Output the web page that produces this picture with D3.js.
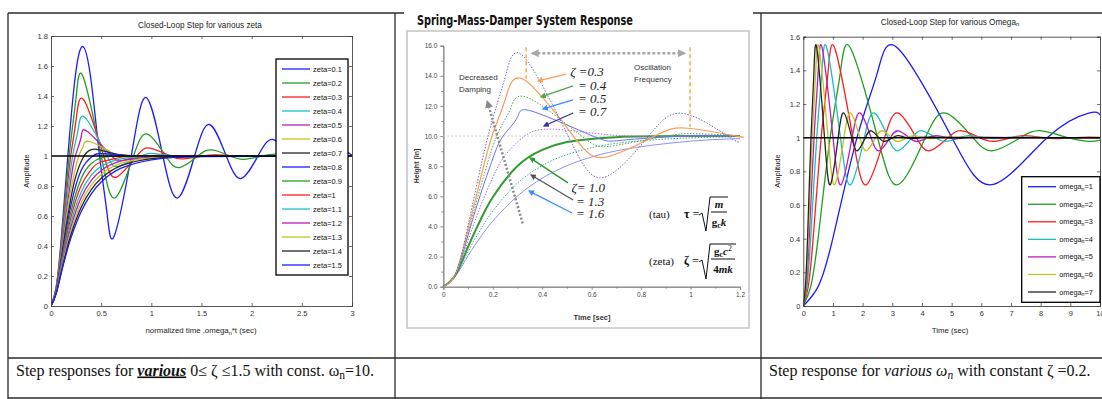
<!DOCTYPE html>
<html>
<head>
<meta charset="utf-8">
<script src="https://cdn.jsdelivr.net/npm/d3@7"></script>
<style>
  body { margin: 0; background: #fff; }
  svg { display: block; }
</style>
</head>
<body>
<svg id="fig" width="1102" height="399"></svg>
<script>
// ---------- left panel: step responses, omega_n = 10, various zeta ----------
const zetaLabels = ["0.1","0.2","0.3","0.4","0.5","0.6","0.7","0.8","0.9","1","1.1","1.2","1.3","1.4","1.5"];
const zetaXTicks = [0, 0.5, 1, 1.5, 2, 2.5, 3];
const zetaYTicks = [0, 0.2, 0.4, 0.6, 0.8, 1, 1.2, 1.4, 1.6, 1.8];

const zeta01 = [[0,0],[0.05,0.12],[0.1,0.43],[0.168,1],[0.24,1.52],[0.316,1.73],[0.4,1.5],[0.484,1],[0.56,0.61],[0.632,0.47],[0.8,1],[0.948,1.39],[1.115,1],[1.263,0.72],[1.431,1],[1.579,1.21],[1.747,1],[1.894,0.85],[2.062,1],[2.21,1.11],[2.378,1],[2.526,0.92],[2.694,1],[2.841,1.06],[3,1.005]];
const zeta02 = [[0,0],[0.05,0.115],[0.1,0.405],[0.181,1],[0.25,1.39],[0.321,1.527],[0.501,1],[0.641,0.722],[0.822,1],[0.962,1.146],[1.143,1],[1.282,0.923],[1.463,1],[1.603,1.041],[1.784,1],[1.924,0.978],[2.105,1],[2.244,1.012],[2.425,1],[2.565,0.994],[2.746,1],[2.885,1.003],[3,1]];
const zeta03 = [[0,0],[0.05,0.111],[0.1,0.381],[0.15,0.713],[0.197,1],[0.25,1.241],[0.329,1.372],[0.526,1],[0.659,0.861],[0.855,1],[0.988,1.052],[1.185,1],[1.317,0.981],[1.514,1],[1.647,1.007],[1.843,1],[1.976,0.997],[2.3,1],[3,1]];
const zeta04 = [[0,0],[0.05,0.107],[0.1,0.36],[0.15,0.658],[0.216,1],[0.27,1.175],[0.343,1.254],[0.559,1],[0.686,0.935],[0.902,1],[1.028,1.016],[1.245,1],[1.371,0.996],[1.7,1],[3,1]];
const zeta05 = [[0,0],[0.05,0.104],[0.1,0.34],[0.15,0.611],[0.2,0.849],[0.242,1],[0.3,1.125],[0.363,1.163],[0.605,1],[0.726,0.973],[0.967,1],[1.088,1.004],[1.5,1],[3,1]];
const zeta06 = [[0,0],[0.05,0.101],[0.1,0.322],[0.15,0.568],[0.2,0.783],[0.277,1],[0.32,1.062],[0.393,1.095],[0.67,1],[0.785,0.991],[1.2,1],[3,1]];
const zeta07 = [[0,0],[0.05,0.099],[0.1,0.306],[0.15,0.531],[0.2,0.725],[0.25,0.871],[0.329,1],[0.44,1.046],[0.66,1.01],[0.88,0.998],[1.2,1],[3,1]];
const zeta08 = [[0,0],[0.05,0.096],[0.1,0.291],[0.15,0.498],[0.2,0.676],[0.3,0.903],[0.416,1],[0.524,1.015],[0.8,1.002],[1.2,1],[3,1]];
const zeta09 = [[0,0],[0.05,0.093],[0.1,0.277],[0.15,0.469],[0.2,0.633],[0.3,0.849],[0.4,0.949],[0.5,0.988],[0.6,0.998],[1,1],[3,1]];
const zeta10 = [[0,0],[0.05,0.09],[0.1,0.264],[0.15,0.442],[0.2,0.594],[0.3,0.801],[0.4,0.908],[0.5,0.96],[0.7,0.993],[1,1],[3,1]];
const zeta11 = [[0,0],[0.05,0.088],[0.1,0.252],[0.15,0.418],[0.2,0.56],[0.3,0.759],[0.4,0.871],[0.5,0.931],[0.7,0.981],[1,0.997],[1.5,1],[3,1]];
const zeta12 = [[0,0],[0.05,0.085],[0.1,0.242],[0.15,0.397],[0.2,0.53],[0.3,0.721],[0.4,0.836],[0.5,0.904],[0.7,0.967],[1,0.993],[1.5,1],[3,1]];
const zeta13 = [[0,0],[0.05,0.083],[0.1,0.232],[0.15,0.377],[0.2,0.502],[0.3,0.687],[0.4,0.804],[0.5,0.877],[0.7,0.952],[1,0.988],[1.5,0.999],[3,1]];
const zeta14 = [[0,0],[0.05,0.081],[0.1,0.222],[0.15,0.359],[0.2,0.478],[0.3,0.656],[0.4,0.774],[0.5,0.851],[0.7,0.936],[1,0.982],[1.5,0.998],[3,1]];
const zeta15 = [[0,0],[0.05,0.079],[0.1,0.213],[0.15,0.343],[0.2,0.456],[0.3,0.628],[0.4,0.746],[0.5,0.827],[0.7,0.919],[1,0.974],[1.5,0.996],[3,1]];
const zetaSeries = [zeta01, zeta02, zeta03, zeta04, zeta05, zeta06, zeta07, zeta08, zeta09, zeta10, zeta11, zeta12, zeta13, zeta14, zeta15];

// ---------- middle panel: spring-mass-damper (Excel chart) ----------
const smdXTicks = [0, 0.2, 0.4, 0.6, 0.8, 1, 1.2];
const smdYTicks = [0, 2, 4, 6, 8, 10, 12, 14, 16];
const smd02 = [[0,0],[0.05,0.9],[0.1,4.05],[0.181,10],[0.25,13.9],[0.325,15.27],[0.505,10],[0.648,7.25],[0.83,10],[0.972,11.5],[1.15,10],[1.2,9.6]];
const smd03 = [[0,0],[0.05,0.9],[0.1,3.81],[0.15,7.13],[0.197,10],[0.25,12.41],[0.329,13.72],[0.526,10],[0.659,8.61],[0.855,10],[0.988,10.52],[1.185,10],[1.2,9.99]];
const smd04 = [[0,0],[0.05,0.88],[0.1,3.6],[0.15,6.58],[0.216,10],[0.27,11.75],[0.343,12.54],[0.559,10],[0.686,9.35],[0.902,10],[1.028,10.16],[1.2,10.03]];
const smd05 = [[0,0],[0.05,0.86],[0.1,3.4],[0.15,6.11],[0.2,8.49],[0.242,10],[0.3,11.25],[0.363,11.63],[0.605,10],[0.726,9.73],[0.967,10],[1.088,10.04],[1.2,10.01]];
const smd07 = [[0,0],[0.05,0.84],[0.1,3.06],[0.15,5.31],[0.2,7.25],[0.25,8.71],[0.329,10],[0.44,10.46],[0.66,10.1],[0.88,9.98],[1.2,10]];
const smd10 = [[0,0],[0.05,0.8],[0.1,2.64],[0.15,4.42],[0.2,5.94],[0.3,8.01],[0.4,9.08],[0.5,9.6],[0.7,9.93],[1,10],[1.2,10]];
const smd13 = [[0,0],[0.05,0.76],[0.1,2.32],[0.15,3.77],[0.2,5.02],[0.3,6.87],[0.4,8.04],[0.5,8.77],[0.7,9.52],[1,9.88],[1.2,9.95]];
const smd16 = [[0,0],[0.05,0.72],[0.1,2.05],[0.15,3.28],[0.2,4.35],[0.3,6.02],[0.4,7.2],[0.5,8.03],[0.7,9.02],[1,9.66],[1.2,9.83]];
const smdLabelsTop = ["\u03B6 =0.3", "= 0.4", "= 0.5", "= 0.7"];
const smdLabelsBottom = ["\u03B6= 1.0", "= 1.3", "= 1.6"];

// ---------- right panel: zeta = 0.2, various omega_n ----------
const omegaLabels = ["1", "2", "3", "4", "5", "6", "7"];
const omegaXTicks = [0, 1, 2, 3, 4, 5, 6, 7, 8, 9, 10];
const omegaYTicks = [0, 0.2, 0.4, 0.6, 0.8, 1, 1.2, 1.4, 1.6];
const omega1 = [[0,0],[0.5,0.115],[1,0.405],[1.81,1],[2.5,1.388],[3.21,1.527],[5.01,1],[6.41,0.722],[8.22,1],[9.62,1.146],[10,1.136]];
const omega2 = [[0,0],[0.25,0.115],[0.5,0.405],[0.905,1],[1.25,1.388],[1.605,1.527],[2.505,1],[3.205,0.722],[4.11,1],[4.81,1.146],[5.715,1],[6.41,0.923],[7.315,1],[8.015,1.041],[8.92,1],[9.62,0.978],[10,0.984]];
const omega3 = [[0,0],[0.167,0.115],[0.333,0.405],[0.603,1],[0.833,1.388],[1.07,1.527],[1.67,1],[2.137,0.722],[2.74,1],[3.207,1.146],[3.81,1],[4.273,0.923],[4.877,1],[5.343,1.041],[5.947,1],[6.413,0.978],[7.017,1],[7.48,1.012],[8.083,1],[8.55,0.994],[9.153,1],[9.617,1.003],[10,1.001]];
const omega4 = [[0,0],[0.125,0.115],[0.25,0.405],[0.453,1],[0.625,1.388],[0.803,1.527],[1.253,1],[1.603,0.722],[2.055,1],[2.405,1.146],[2.858,1],[3.205,0.923],[3.658,1],[4.008,1.041],[4.46,1],[4.81,0.978],[5.263,1],[5.61,1.012],[6.063,1],[6.413,0.994],[6.865,1],[7.213,1.003],[8.5,1],[10,1]];
const omega5 = [[0,0],[0.1,0.115],[0.2,0.405],[0.362,1],[0.5,1.388],[0.642,1.527],[1.002,1],[1.282,0.722],[1.644,1],[1.924,1.146],[2.286,1],[2.564,0.923],[2.926,1],[3.206,1.041],[3.568,1],[3.848,0.978],[4.21,1],[4.488,1.012],[4.85,1],[5.13,0.994],[5.492,1],[5.77,1.003],[7.5,1],[10,1]];
const omega6 = [[0,0],[0.083,0.115],[0.167,0.405],[0.302,1],[0.417,1.388],[0.535,1.527],[0.835,1],[1.068,0.722],[1.37,1],[1.603,1.146],[1.905,1],[2.137,0.923],[2.438,1],[2.672,1.041],[2.973,1],[3.207,0.978],[3.508,1],[3.74,1.012],[4.042,1],[4.275,0.994],[4.577,1],[4.808,1.003],[6.5,1],[10,1]];
const omega7 = [[0,0],[0.071,0.115],[0.143,0.405],[0.259,1],[0.357,1.388],[0.459,1.527],[0.716,1],[0.916,0.722],[1.174,1],[1.374,1.146],[1.633,1],[1.831,0.923],[2.09,1],[2.29,1.041],[2.549,1],[2.749,0.978],[3.007,1],[3.206,1.012],[3.464,1],[3.664,0.994],[3.923,1],[4.121,1.003],[6,1],[10,1]];
const omegaSeries = [omega1, omega2, omega3, omega4, omega5, omega6, omega7];

const matlabColors = ["#1c1cff", "#1f9f1f", "#ff1c1c", "#1cbfbf", "#bf1cbf", "#c4c41c", "#262626"];
const sans = "'Liberation Sans', Arial, sans-serif";
const serif = "'Liberation Serif', 'Times New Roman', serif";

const svg = d3.select("#fig");
svg.append("rect").attr("width", 1102).attr("height", 399).attr("fill", "#fff");
const defs = svg.append("defs");

// text with sub/superscript parts
function richText(g, x, y, parts, size) {
  const t = g.append("text").attr("x", x).attr("y", y).attr("font-size", size);
  let shift = 0;
  parts.forEach(p => {
    const s = t.append("tspan").text(p.t);
    const want = p.sub ? size * 0.22 : p.sup ? -size * 0.4 : 0;
    if (want !== shift) { s.attr("dy", want - shift); shift = want; }
    if (p.sub || p.sup) s.attr("font-size", size * 0.72);
    if (p.i) s.attr("font-style", "italic");
    if (p.b) s.attr("font-weight", "bold");
    if (p.u) s.attr("text-decoration", "underline");
  });
  return t;
}

function clipTo(id, x, y) {
  defs.append("clipPath").attr("id", id).append("rect")
    .attr("x", x.range()[0]).attr("y", y.range()[1])
    .attr("width", x.range()[1] - x.range()[0]).attr("height", y.range()[0] - y.range()[1]);
}

// MATLAB style box with inward ticks on all sides
function matlabAxes(g, x, y, xt, yt) {
  const [xa, xb] = x.range(), [ya, yb] = y.range();
  const axes = [
    g.append("g").attr("transform", `translate(0,${ya})`)
      .call(d3.axisBottom(x).tickValues(xt).tickSize(-3).tickPadding(5).tickFormat(d => String(d))),
    g.append("g").attr("transform", `translate(${xa},0)`)
      .call(d3.axisLeft(y).tickValues(yt).tickSize(-3).tickPadding(3).tickFormat(d => String(d))),
    g.append("g").attr("transform", `translate(0,${yb})`)
      .call(d3.axisTop(x).tickValues(xt).tickSize(-3).tickFormat("")),
    g.append("g").attr("transform", `translate(${xb},0)`)
      .call(d3.axisRight(y).tickValues(yt).tickSize(-3).tickFormat(""))
  ];
  axes.forEach(a => {
    a.attr("font-family", sans).attr("font-size", 7.5);
    a.select(".domain").attr("stroke", "#444").attr("stroke-width", 0.9);
    a.selectAll(".tick line").attr("stroke", "#444").attr("stroke-width", 0.8);
    a.selectAll(".tick text").attr("fill", "#333");
  });
}

// ---------- table frame ----------
const frame = svg.append("g").attr("stroke", "#2b2b2b").attr("stroke-width", 1.3);
[[8, 13, 404, 13], [753, 13, 1102, 13], [8, 358, 1102, 358], [8, 398, 1102, 398],
 [8, 13, 8, 399], [395, 13, 395, 399], [761, 13, 761, 399]].forEach(l =>
  frame.append("line").attr("x1", l[0]).attr("y1", l[1]).attr("x2", l[2]).attr("y2", l[3]));

// ---------- left panel ----------
{
  const x = d3.scaleLinear().domain([0, 3]).range([51, 352]);
  const y = d3.scaleLinear().domain([0, 1.8]).range([306, 36]);
  const g = svg.append("g");
  clipTo("clipZ", x, y);
  const line = d3.line().x(d => x(d[0])).y(d => y(d[1])).curve(d3.curveNatural);
  g.append("g").attr("clip-path", "url(#clipZ)")
    .selectAll("path").data(zetaSeries).join("path")
    .attr("d", line).attr("fill", "none")
    .attr("stroke", (d, i) => matlabColors[i % 7]).attr("stroke-width", 1.3);
  g.append("line").attr("x1", x(0)).attr("x2", x(3)).attr("y1", y(1)).attr("y2", y(1))
    .attr("stroke", "#000").attr("stroke-width", 1.6);
  matlabAxes(g, x, y, zetaXTicks, zetaYTicks);

  g.append("text").attr("x", 200).attr("y", 28).attr("text-anchor", "middle")
    .attr("font-family", sans).attr("font-size", 8.2).attr("fill", "#222")
    .text("Closed-Loop Step for various zeta");
  richText(g, 201, 333, [{ t: "normalized time ,omega" }, { t: "n", sub: true }, { t: "*t (sec)" }], 7.8)
    .attr("text-anchor", "middle").attr("font-family", sans).attr("fill", "#222");
  g.append("text").attr("transform", "translate(29,171) rotate(-90)").attr("text-anchor", "middle")
    .attr("font-family", sans).attr("font-size", 7.5).attr("fill", "#222").text("Amplitude");

  const lg = g.append("g");
  lg.append("rect").attr("x", 276).attr("y", 59).attr("width", 72).attr("height", 216)
    .attr("fill", "#fff").attr("stroke", "#000").attr("stroke-width", 1.3);
  const ly = d3.scalePoint().domain(zetaLabels).range([69, 265]);
  const items = lg.selectAll("g.item").data(zetaLabels).join("g").attr("class", "item");
  items.append("line").attr("x1", 282).attr("x2", 310).attr("y1", d => ly(d)).attr("y2", d => ly(d))
    .attr("stroke", (d, i) => matlabColors[i % 7]).attr("stroke-width", 1.3);
  items.append("text").attr("x", 313).attr("y", d => ly(d) + 2.7)
    .attr("font-family", sans).attr("font-size", 7.5).attr("fill", "#111").text(d => "zeta=" + d);

  richText(g, 16, 375.5, [
    { t: "Step responses for " }, { t: "various", b: true, i: true, u: true },
    { t: " 0\u2264 \u03B6 \u22641.5 with const. \u03C9" }, { t: "n", sub: true }, { t: "=10." }
  ], 16).attr("font-family", serif).attr("fill", "#111");
}

// ---------- middle panel ----------
{
  const x = d3.scaleLinear().domain([0, 1.2]).range([443.3, 740]);
  const y = d3.scaleLinear().domain([0, 16]).range([286.7, 45.7]);
  const g = svg.append("g");

  g.append("text").attr("x", 417).attr("y", 24.5).attr("font-family", "'DejaVu Sans Condensed', 'DejaVu Sans', sans-serif")
    .attr("font-weight", "bold").attr("font-size", 14).attr("fill", "#111")
    .attr("textLength", 216).attr("lengthAdjust", "spacingAndGlyphs")
    .text("Spring-Mass-Damper System Response");
  g.append("rect").attr("x", 407).attr("y", 31).attr("width", 342).attr("height", 297)
    .attr("fill", "#fff").attr("stroke", "#c4c4c4").attr("stroke-width", 1.5);

  // axes
  const ax = g.append("g").attr("transform", `translate(0,${y(0)})`)
    .call(d3.axisBottom(x).tickValues(smdXTicks).tickSize(3).tickPadding(3).tickFormat(d => String(d)));
  const axm = g.append("g").attr("transform", `translate(0,${y(0)})`)
    .call(d3.axisBottom(x).tickValues([0.1, 0.3, 0.5, 0.7, 0.9, 1.1]).tickSize(2).tickFormat(""));
  const ay = g.append("g").attr("transform", `translate(${x(0)},0)`)
    .call(d3.axisLeft(y).tickValues(smdYTicks).tickSize(3).tickPadding(3).tickFormat(d3.format(".1f")));
  const aym = g.append("g").attr("transform", `translate(${x(0)},0)`)
    .call(d3.axisLeft(y).tickValues([1, 3, 5, 7, 9, 11, 13, 15]).tickSize(2).tickFormat(""));
  [ax, axm, ay, aym].forEach(a => {
    a.attr("font-family", sans).attr("font-size", 6.5);
    a.select(".domain").attr("stroke", "#8a8a8a");
    a.selectAll(".tick line").attr("stroke", "#8a8a8a");
    a.selectAll(".tick text").attr("fill", "#444");
  });
  g.append("text").attr("x", 592).attr("y", 319.5).attr("text-anchor", "middle")
    .attr("font-family", sans).attr("font-weight", "bold").attr("font-size", 7.5).attr("fill", "#333").text("Time [sec]");
  g.append("text").attr("transform", "translate(419,166) rotate(-90)").attr("text-anchor", "middle")
    .attr("font-family", sans).attr("font-weight", "bold").attr("font-size", 7).attr("fill", "#333").text("Height [in]");

  // reference at steady state
  g.append("line").attr("x1", x(0)).attr("x2", x(1.2)).attr("y1", y(10)).attr("y2", y(10))
    .attr("stroke", "#c8c8c8").attr("stroke-dasharray", "2,2");

  const line = d3.line().x(d => x(d[0])).y(d => y(d[1])).curve(d3.curveNatural);
  const smdCurves = [
    { d: smd16, c: "#8f8fff", w: 1, dash: null },
    { d: smd13, c: "#3aae9c", w: 1, dash: "1.5,1.5" },
    { d: smd10, c: "#2f9a2f", w: 2, dash: null },
    { d: smd07, c: "#b070d0", w: 1, dash: "1.5,1.5" },
    { d: smd05, c: "#6e6ef2", w: 1, dash: null },
    { d: smd04, c: "#4aa84a", w: 1, dash: "1.5,1.5" },
    { d: smd03, c: "#ff9c55", w: 1.2, dash: null },
    { d: smd02, c: "#6a6ad0", w: 1, dash: "1.5,1.5" }
  ];
  g.selectAll("path.smd").data(smdCurves).join("path").attr("class", "smd")
    .attr("d", s => line(s.d)).attr("fill", "none").attr("stroke", s => s.c)
    .attr("stroke-width", s => s.w).attr("stroke-dasharray", s => s.dash);

  let markerCount = 0;
  function marker(color, size) {
    const id = "arrow" + (markerCount++);
    defs.append("marker").attr("id", id).attr("viewBox", "0 0 10 10").attr("refX", 8).attr("refY", 5)
      .attr("markerWidth", size).attr("markerHeight", size).attr("markerUnits", "userSpaceOnUse")
      .attr("orient", "auto-start-reverse")
      .append("path").attr("d", "M0,0L10,5L0,10z").attr("fill", color);
    return `url(#${id})`;
  }
  function arrow(from, to, color, w, dash, both) {
    const m = marker(color, w > 2 ? 8 : 6);
    const l = g.append("line").attr("x1", x(from[0])).attr("y1", y(from[1]))
      .attr("x2", x(to[0])).attr("y2", y(to[1])).attr("stroke", color).attr("stroke-width", w)
      .attr("stroke-dasharray", dash).attr("marker-end", m);
    if (both) l.attr("marker-start", m);
  }

  // annotations
  g.append("line").attr("x1", x(0.335)).attr("x2", x(0.335)).attr("y1", y(15.9)).attr("y2", y(13.8))
    .attr("stroke", "#ffa030").attr("stroke-width", 1.4).attr("stroke-dasharray", "4,3");
  g.append("line").attr("x1", x(0.998)).attr("x2", x(0.998)).attr("y1", y(15.9)).attr("y2", y(10.6))
    .attr("stroke", "#ffa030").attr("stroke-width", 1.4).attr("stroke-dasharray", "4,3");
  arrow([0.36, 15.5], [0.975, 15.5], "#a8a8a8", 2.5, "3,2", true);
  arrow([0.321, 4.2], [0.178, 12.3], "#8a8a8a", 2.5, "2,2", false);

  arrow([0.496, 14.12], [0.383, 13.66], "#ff9c55", 1.3, null);
  arrow([0.525, 13.33], [0.395, 12.6], "#4aa84a", 1.3, null);
  arrow([0.525, 12.4], [0.403, 11.8], "#3b8cff", 1.3, null);
  arrow([0.525, 11.53], [0.407, 10.67], "#3030a8", 1.3, null);
  arrow([0.504, 6.89], [0.351, 8.55], "#2f9a2f", 1.6, null);
  arrow([0.525, 5.76], [0.355, 7.42], "#555", 1.3, null);
  arrow([0.521, 4.89], [0.347, 6.35], "#3b8cff", 1.3, null);

  const tt = g.append("g").attr("font-family", sans).attr("font-size", 8).attr("fill", "#333");
  tt.append("text").attr("x", 459).attr("y", 80).text("Decreased");
  tt.append("text").attr("x", 459).attr("y", 91.5).text("Damping");
  tt.append("text").attr("x", 634).attr("y", 69.5).text("Oscillation");
  tt.append("text").attr("x", 634).attr("y", 81.5).text("Frequency");

  const zl = g.append("g").attr("font-family", serif).attr("font-style", "italic").attr("font-size", 13).attr("fill", "#222");
  const topPos = [[0.513, 14.02], [0.545, 13.09], [0.545, 12.2], [0.545, 11.3]];
  zl.selectAll("text.top").data(smdLabelsTop).join("text").attr("class", "top")
    .attr("x", (d, i) => x(topPos[i][0])).attr("y", (d, i) => y(topPos[i][1])).text(d => d);
  const botPos = [[0.518, 6.32], [0.537, 5.39], [0.537, 4.53]];
  zl.selectAll("text.bot").data(smdLabelsBottom).join("text").attr("class", "bot")
    .attr("x", (d, i) => x(botPos[i][0])).attr("y", (d, i) => y(botPos[i][1])).text(d => d);

  // formulas
  const f = g.append("g").attr("font-family", serif).attr("fill", "#111");
  f.append("text").attr("x", 649).attr("y", 218).attr("font-size", 11).text("(tau)");
  richText(f, 684, 218, [{ t: "\u03C4", b: true }, { t: " =" }], 12);
  f.append("path").attr("d", "M699,215L702,213L706,231L710,197L728,197").attr("fill", "none").attr("stroke", "#111");
  richText(f, 719, 208, [{ t: "m", b: true, i: true }], 11).attr("text-anchor", "middle");
  f.append("line").attr("x1", 711).attr("x2", 727).attr("y1", 212).attr("y2", 212).attr("stroke", "#111");
  richText(f, 719, 226, [{ t: "g", b: true }, { t: "c", sub: true, b: true }, { t: "k", b: true, i: true }], 11).attr("text-anchor", "middle");

  f.append("text").attr("x", 649).attr("y", 265).attr("font-size", 11).text("(zeta)");
  richText(f, 684, 265, [{ t: "\u03B6", b: true }, { t: " =" }], 12);
  f.append("path").attr("d", "M699,262L702,260L706,279L710,244L736,244").attr("fill", "none").attr("stroke", "#111");
  richText(f, 723, 255, [{ t: "g", b: true }, { t: "c", sub: true, b: true }, { t: "c", b: true, i: true }, { t: "2", sup: true }], 11).attr("text-anchor", "middle");
  f.append("line").attr("x1", 711).attr("x2", 735).attr("y1", 259).attr("y2", 259).attr("stroke", "#111");
  richText(f, 723, 273, [{ t: "4", b: true }, { t: "mk", b: true, i: true }], 11).attr("text-anchor", "middle");
}

// ---------- right panel ----------
{
  const x = d3.scaleLinear().domain([0, 10]).range([803.3, 1100]);
  const y = d3.scaleLinear().domain([0, 1.6]).range([306, 36.7]);
  const g = svg.append("g");
  clipTo("clipW", x, y);
  const line = d3.line().x(d => x(d[0])).y(d => y(d[1])).curve(d3.curveNatural);
  g.append("g").attr("clip-path", "url(#clipW)")
    .selectAll("path").data(omegaSeries).join("path")
    .attr("d", line).attr("fill", "none")
    .attr("stroke", (d, i) => matlabColors[i]).attr("stroke-width", 1.3);
  g.append("line").attr("x1", x(0)).attr("x2", x(10)).attr("y1", y(1)).attr("y2", y(1))
    .attr("stroke", "#000").attr("stroke-width", 1.6);
  matlabAxes(g, x, y, omegaXTicks, omegaYTicks);

  richText(g, 950, 24.5, [{ t: "Closed-Loop Step for various Omega" }, { t: "n", sub: true }], 8.2)
    .attr("text-anchor", "middle").attr("font-family", sans).attr("fill", "#222");
  g.append("text").attr("x", 950).attr("y", 333).attr("text-anchor", "middle")
    .attr("font-family", sans).attr("font-size", 7.8).attr("fill", "#222").text("Time (sec)");
  g.append("text").attr("transform", "translate(780,171) rotate(-90)").attr("text-anchor", "middle")
    .attr("font-family", sans).attr("font-size", 7.5).attr("fill", "#222").text("Amplitude");

  const lg = g.append("g");
  lg.append("rect").attr("x", 1021.7).attr("y", 176.7).attr("width", 78.3).attr("height", 125.6)
    .attr("fill", "#fff").attr("stroke", "#000").attr("stroke-width", 1.3);
  const ly = d3.scalePoint().domain(omegaLabels).range([186.7, 292]);
  omegaLabels.forEach((k, i) => {
    lg.append("line").attr("x1", 1028).attr("x2", 1056).attr("y1", ly(k)).attr("y2", ly(k))
      .attr("stroke", matlabColors[i]).attr("stroke-width", 1.3);
    richText(lg, 1059.3, ly(k) + 2.5, [{ t: "omega" }, { t: "n", sub: true }, { t: "=" + k }], 7.3)
      .attr("font-family", sans).attr("fill", "#111");
  });

  richText(g, 769, 375.5, [
    { t: "Step response for " }, { t: "various \u03C9", i: true }, { t: "n", sub: true, i: true },
    { t: " with constant \u03B6 =0.2." }
  ], 16).attr("font-family", serif).attr("fill", "#111");
}
</script>
</body>
</html>
